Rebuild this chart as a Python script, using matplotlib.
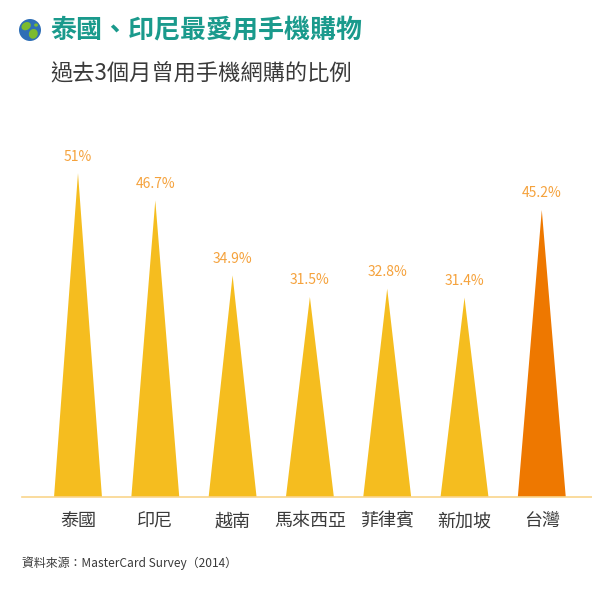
import matplotlib
matplotlib.use("Agg")
import matplotlib.pyplot as plt
from matplotlib.patches import Polygon, Circle, Ellipse

plt.rcParams['font.family'] = ['Noto Sans CJK TC', 'DejaVu Sans']

# data
countries = ["泰國", "印尼", "越南", "馬來西亞", "菲律賓", "新加坡", "台灣"]
values = [51, 46.7, 34.9, 31.5, 32.8, 31.4, 45.2]
labels = ["51%", "46.7%", "34.9%", "31.5%", "32.8%", "31.4%", "45.2%"]
colors = ["#F5BD1F"] * 6 + ["#EE7800"]

W, H = 592, 600
fig = plt.figure(figsize=(W / 100, H / 100), dpi=100)

# axes placed in pixel units
left, right, base, top = 22, 592, 497, 116
ax = fig.add_axes([left / W, (H - base) / H, (right - left) / W, (base - top) / H])
unit = 77.3
x0 = -(78 - left) / unit
ax.set_xlim(x0, x0 + (right - left) / unit)
ax.set_ylim(0, 60)
ax.axis("off")

half = 0.31
for i, (v, c, lab) in enumerate(zip(values, colors, labels)):
    tri = Polygon([[i - half, 0], [i + half, 0], [i, v]], closed=True,
                  facecolor=c, edgecolor="none")
    ax.add_patch(tri)
    ax.text(i, v + 1.5, lab, ha="center", va="bottom", fontsize=10,
            color="#F5A23C")
    ax.text(i, -2.4, countries[i], ha="center", va="top", fontsize=13,
            color="#3a3a3a")

ax.axhline(0, color="#FAD58C", lw=1.2, clip_on=False)

# globe icon
ax_icon = fig.add_axes([19 / W, (H - 41) / H, 22 / W, 22 / H])
ax_icon.set_xlim(-1, 1)
ax_icon.set_ylim(-1, 1)
ax_icon.set_aspect("equal")
ax_icon.axis("off")
ax_icon.add_patch(Circle((0, 0), 1, facecolor="#2F6FB6", edgecolor="none"))
ax_icon.add_patch(Ellipse((-0.35, 0.35), 0.9, 0.7, angle=30, facecolor="#7DBB2F",
                          edgecolor="none"))
ax_icon.add_patch(Ellipse((0.3, -0.35), 0.8, 0.9, angle=-20, facecolor="#7DBB2F",
                          edgecolor="none"))
ax_icon.add_patch(Ellipse((0.55, 0.45), 0.35, 0.3, facecolor="#7DBB2F",
                          edgecolor="none"))

# titles
fig.text(50 / W, 1 - 30 / H, "泰國、印尼最愛用手機購物", fontsize=18.7,
         fontweight="bold", color="#1A9A8C", va="center", ha="left")
fig.text(50 / W, 1 - 73 / H, "過去3個月曾用手機網購的比例", fontsize=16,
         color="#3a3a3a", va="center", ha="left")
fig.text(22 / W, 1 - 563 / H, "資料來源：MasterCard Survey（2014）", fontsize=8.6,
         color="#3a3a3a", va="center", ha="left")

fig.savefig("out.png", dpi=100, facecolor="white")
